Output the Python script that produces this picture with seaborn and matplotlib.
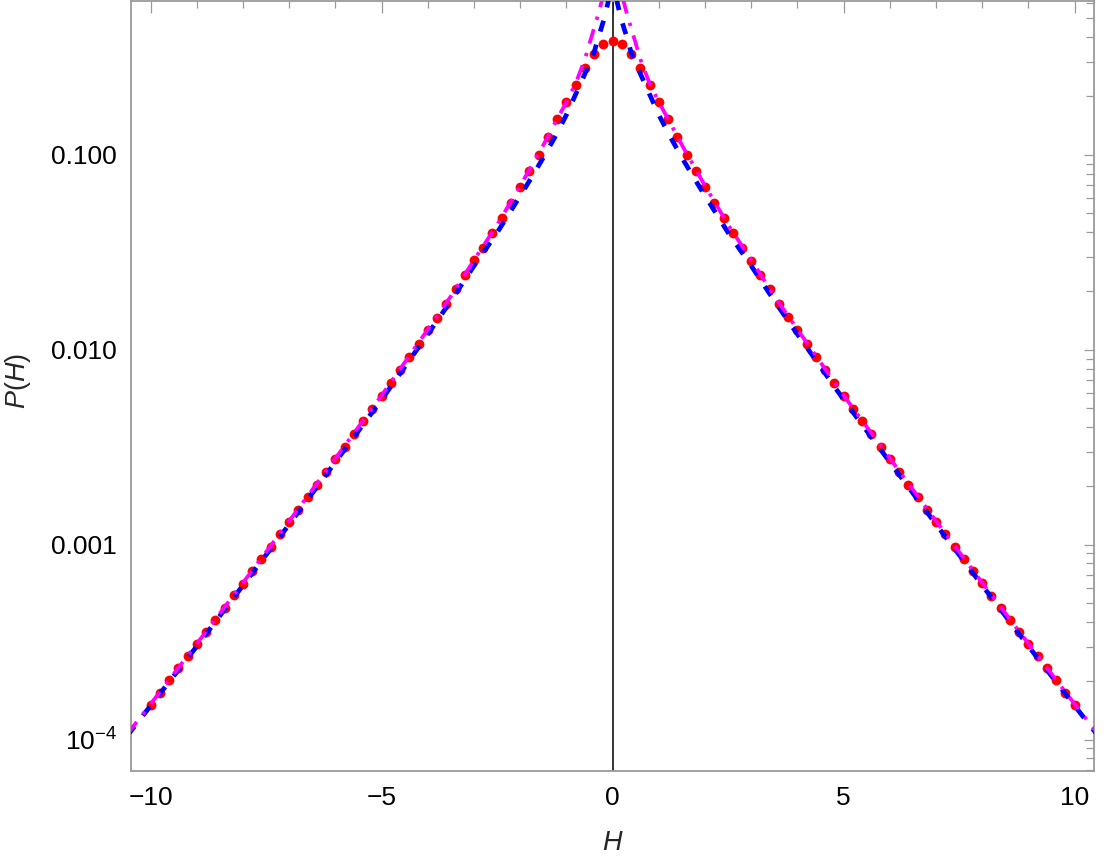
import numpy as np
import pandas as pd
import matplotlib
matplotlib.use("Agg")
import matplotlib.pyplot as plt
import matplotlib.ticker as mticker
import seaborn as sns

# ---------------- data ----------------
H_dots = [-10.0, -9.8, -9.6, -9.4, -9.2, -9.0, -8.8, -8.6, -8.4, -8.2,
          -8.0, -7.8, -7.6, -7.4, -7.2, -7.0, -6.8, -6.6, -6.4, -6.2,
          -6.0, -5.8, -5.6, -5.4, -5.2, -5.0, -4.8, -4.6, -4.4, -4.2,
          -4.0, -3.8, -3.6, -3.4, -3.2, -3.0, -2.8, -2.6, -2.4, -2.2,
          -2.0, -1.8, -1.6, -1.4, -1.2, -1.0, -0.8, -0.6, -0.4, -0.2,
          0.0,
          0.2, 0.4, 0.6, 0.8, 1.0, 1.2, 1.4, 1.6, 1.8, 2.0,
          2.2, 2.4, 2.6, 2.8, 3.0, 3.2, 3.4, 3.6, 3.8, 4.0,
          4.2, 4.4, 4.6, 4.8, 5.0, 5.2, 5.4, 5.6, 5.8, 6.0,
          6.2, 6.4, 6.6, 6.8, 7.0, 7.2, 7.4, 7.6, 7.8, 8.0,
          8.2, 8.4, 8.6, 8.8, 9.0, 9.2, 9.4, 9.6, 9.8, 10.0]
P_dots = [0.000151, 0.000174, 0.000202, 0.000232, 0.000267, 0.000308, 0.000355, 0.000409, 0.000471, 0.000548,
          0.000631, 0.000731, 0.000843, 0.000976, 0.00113, 0.00130, 0.00151, 0.00175, 0.00203, 0.00235,
          0.00275, 0.00316, 0.00370, 0.00429, 0.00496, 0.00576, 0.00672, 0.00786, 0.00920, 0.0107,
          0.0126, 0.0146, 0.0172, 0.0204, 0.0242, 0.0288, 0.0334, 0.0398, 0.0474, 0.0567,
          0.0685, 0.0824, 0.100, 0.123, 0.152, 0.187, 0.229, 0.279, 0.330, 0.370,
          0.385,
          0.370, 0.330, 0.279, 0.229, 0.187, 0.152, 0.123, 0.100, 0.0824, 0.0683,
          0.0567, 0.0474, 0.0397, 0.0334, 0.0285, 0.0242, 0.0204, 0.0172, 0.0147, 0.0126,
          0.0107, 0.00920, 0.00786, 0.00673, 0.00577, 0.00496, 0.00429, 0.00369, 0.00316, 0.00275,
          0.00235, 0.00203, 0.00175, 0.00151, 0.00131, 0.00113, 0.000976, 0.000843, 0.000731, 0.000633,
          0.000546, 0.000472, 0.000409, 0.000355, 0.000308, 0.000267, 0.000232, 0.000202, 0.000174, 0.000151]

H_blue = [-10.5, -10, -9, -8, -7, -6, -5, -4, -3.5, -3, -2.5, -2, -1.75, -1.5, -1.25,
          -1, -0.8, -0.6, -0.5, -0.4, -0.3, -0.25, -0.2, -0.15, -0.1, -0.05, -0.02,
          0,
          0.02, 0.05, 0.1, 0.15, 0.2, 0.25, 0.3, 0.4, 0.5, 0.6, 0.8, 1,
          1.25, 1.5, 1.75, 2, 2.5, 3, 3.5, 4, 5, 6, 7, 8, 9, 10, 10.5]
P_blue = [0.000105, 0.000149, 0.000301, 0.000618, 0.00127, 0.00265, 0.00554, 0.0120, 0.0178, 0.0269,
          0.0398, 0.0615, 0.0767, 0.0966, 0.123,
          0.160, 0.204, 0.260, 0.295, 0.335, 0.407, 0.442, 0.484, 0.537, 0.603, 0.759, 1.0,
          2.5,
          1.0, 0.759, 0.603, 0.537, 0.484, 0.442, 0.407, 0.335, 0.295, 0.260, 0.204, 0.160,
          0.123, 0.0966, 0.0767, 0.0615, 0.0398, 0.0269, 0.0178, 0.0120, 0.00554, 0.00265,
          0.00127, 0.000618, 0.000301, 0.000149, 0.000105]

H_mag = [-10.5, -10, -9, -8, -7, -6, -5, -4, -3.5, -3, -2.5, -2, -1.75, -1.5, -1.25,
         -1, -0.8, -0.6, -0.5, -0.4, -0.3, -0.25, -0.2, -0.15, -0.1, -0.05,
         0,
         0.05, 0.1, 0.15, 0.2, 0.25, 0.3, 0.4, 0.5, 0.6, 0.8, 1,
         1.25, 1.5, 1.75, 2, 2.5, 3, 3.5, 4, 5, 6, 7, 8, 9, 10, 10.5]
P_mag = [0.000107, 0.000152, 0.000310, 0.000637, 0.00132, 0.00277, 0.00582, 0.0127, 0.0188, 0.0288,
         0.0437, 0.0692, 0.0881, 0.112, 0.145,
         0.186, 0.232, 0.309, 0.372, 0.447, 0.537, 0.596, 0.653, 0.708, 0.776, 0.871,
         1.0,
         0.871, 0.776, 0.708, 0.653, 0.596, 0.537, 0.447, 0.372, 0.309, 0.232, 0.186,
         0.145, 0.112, 0.0881, 0.0692, 0.0437, 0.0288, 0.0188, 0.0127, 0.00582, 0.00277,
         0.00132, 0.000637, 0.000310, 0.000152, 0.000107]

y_tick_values = [1e-4, 1e-3, 1e-2, 1e-1]
y_tick_labels = [r"$10^{-4}$", "0.001", "0.010", "0.100"]
x_tick_values = [-10, -5, 0, 5, 10]

# ---------------- style ----------------
sns.set_style("white")
plt.rcParams["font.family"] = ["Liberation Sans", "DejaVu Sans"]
plt.rcParams["mathtext.fontset"] = "custom"
plt.rcParams["mathtext.rm"] = "Liberation Sans"
plt.rcParams["mathtext.it"] = "Liberation Sans:italic"
plt.rcParams["axes.unicode_minus"] = True

fig = plt.figure(figsize=(11.07, 8.65), dpi=100)
ax = fig.add_axes([0.1181, 0.1090, 0.8702, 0.8898])

frame_gray = "#9a9a9a"

# vertical axis line at H = 0
ax.axvline(0, color="black", lw=1.1, zorder=1.5)

dots_df = pd.DataFrame({"H": H_dots, "P": P_dots})
blue_df = pd.DataFrame({"H": H_blue, "P": P_blue})
mag_df = pd.DataFrame({"H": H_mag, "P": P_mag})

sns.scatterplot(data=dots_df, x="H", y="P", ax=ax, color="#ff0000", s=50,
                linewidth=0, zorder=2, legend=False)
sns.lineplot(data=blue_df, x="H", y="P", ax=ax, color="#0000ff", lw=3.4,
             estimator=None, sort=False, zorder=3, legend=False,
             dashes=False, linestyle=(0, (2.4, 2.9)),
             dash_capstyle="butt")
sns.lineplot(data=mag_df, x="H", y="P", ax=ax, color="#ff00ff", lw=2.7,
             estimator=None, sort=False, zorder=4, legend=False,
             dashes=False, linestyle=(0, (4.0, 2.6, 0.9, 2.6)),
             dash_capstyle="butt")

ax.set_yscale("log")
ax.set_xlim(-10.43, 10.42)
ax.set_ylim(10 ** -4.16, 10 ** -0.212)

ax.xaxis.set_major_locator(mticker.FixedLocator(x_tick_values))
ax.xaxis.set_minor_locator(mticker.MultipleLocator(1))
ax.yaxis.set_major_locator(mticker.FixedLocator(y_tick_values))
ax.yaxis.set_major_formatter(mticker.FixedFormatter(y_tick_labels))
ax.yaxis.set_minor_locator(mticker.LogLocator(base=10, subs=np.arange(2, 10), numticks=20))
ax.yaxis.set_minor_formatter(mticker.NullFormatter())

ax.tick_params(which="both", direction="in", top=True, right=True,
               labeltop=False, labelright=False, color=frame_gray,
               labelsize=19, labelcolor="black", width=0.9)
ax.tick_params(axis="x", which="major", length=8.6, pad=11)
ax.tick_params(axis="x", which="minor", length=5.0)
ax.tick_params(axis="y", which="major", length=7.4, pad=10)
ax.tick_params(axis="y", which="minor", length=5.8)

for sp in ax.spines.values():
    sp.set_color(frame_gray)
    sp.set_linewidth(1.3)
    sp.set_visible(True)

ax.set_xlabel(r"$H$", fontsize=19.5)
ax.set_ylabel(r"$P(H)$", fontsize=19.5)
ax.xaxis.label.set_va("center")
ax.yaxis.label.set_va("center")
ax.xaxis.set_label_coords(0.5, -0.094)
ax.yaxis.set_label_coords(-0.117, 0.506)
ax.grid(False)

fig.savefig("out.png", dpi=100)
